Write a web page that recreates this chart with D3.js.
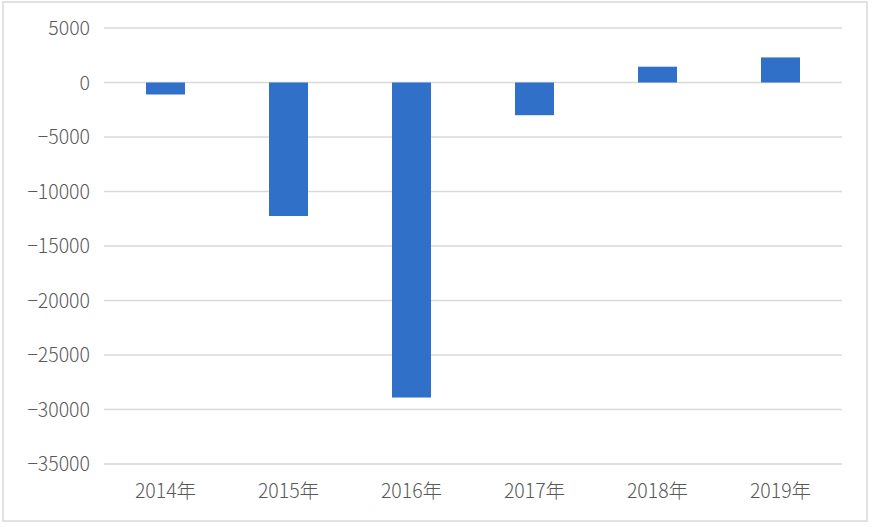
<!DOCTYPE html>
<html>
<head>
<meta charset="utf-8">
<script src="https://cdn.jsdelivr.net/npm/d3@7.9.0/dist/d3.min.js"></script>
<style>
  html, body { margin: 0; padding: 0; background: #fff; }
  svg text { font-family: "Noto Sans CJK SC", "Noto Sans", sans-serif; font-weight: 300; fill: #595959; }
</style>
</head>
<body>
<div id="chart"></div>
<script>
// data
const years = ["2014年", "2015年", "2016年", "2017年", "2018年", "2019年"];
const values = [-1100, -12250, -28900, -3000, 1450, 2300];
const yTicks = [5000, 0, -5000, -10000, -15000, -20000, -25000, -30000, -35000];

const width = 872;
const height = 527;
const margin = { top: 28, right: 30, bottom: 63, left: 104 };

const svg = d3.select("#chart")
    .append("svg")
    .attr("width", width)
    .attr("height", height);

// chart frame
svg.append("rect")
    .attr("x", 3)
    .attr("y", 2)
    .attr("width", 864)
    .attr("height", 519)
    .attr("fill", "#fff")
    .attr("stroke", "#d9d9d9")
    .attr("stroke-width", 1.5);

const xScale = d3.scaleBand()
    .domain(years)
    .range([margin.left, width - margin.right])
    .paddingInner(0.683)
    .paddingOuter(0.683 / 2);

const yScale = d3.scaleLinear()
    .domain([-35000, 5000])
    .range([height - margin.bottom, margin.top]);

// gridlines
svg.append("g")
    .selectAll("line")
    .data(yTicks)
    .join("line")
    .attr("x1", margin.left)
    .attr("x2", width - margin.right)
    .attr("y1", d => yScale(d))
    .attr("y2", d => yScale(d))
    .attr("stroke", "#d9d9d9")
    .attr("stroke-width", 1.5);

// y labels
svg.append("g")
    .selectAll("text")
    .data(yTicks)
    .join("text")
    .attr("x", 90)
    .attr("y", d => yScale(d))
    .attr("dy", "0.36em")
    .attr("text-anchor", "end")
    .style("font-size", "19.5px")
    .text(d => d3.format("d")(d).replace("-", "\u2212"));

// bars
svg.append("g")
    .selectAll("rect")
    .data(values)
    .join("rect")
    .attr("x", (d, i) => xScale(years[i]))
    .attr("width", xScale.bandwidth())
    .attr("y", d => yScale(Math.max(0, d)))
    .attr("height", d => Math.abs(yScale(d) - yScale(0)))
    .attr("fill", "#3070c9");

// x labels
svg.append("g")
    .selectAll("text")
    .data(years)
    .join("text")
    .attr("x", d => xScale(d) + xScale.bandwidth() / 2)
    .attr("y", 491)
    .attr("dy", "0.36em")
    .attr("text-anchor", "middle")
    .style("font-size", "19.5px")
    .text(d => d);
</script>
</body>
</html>
